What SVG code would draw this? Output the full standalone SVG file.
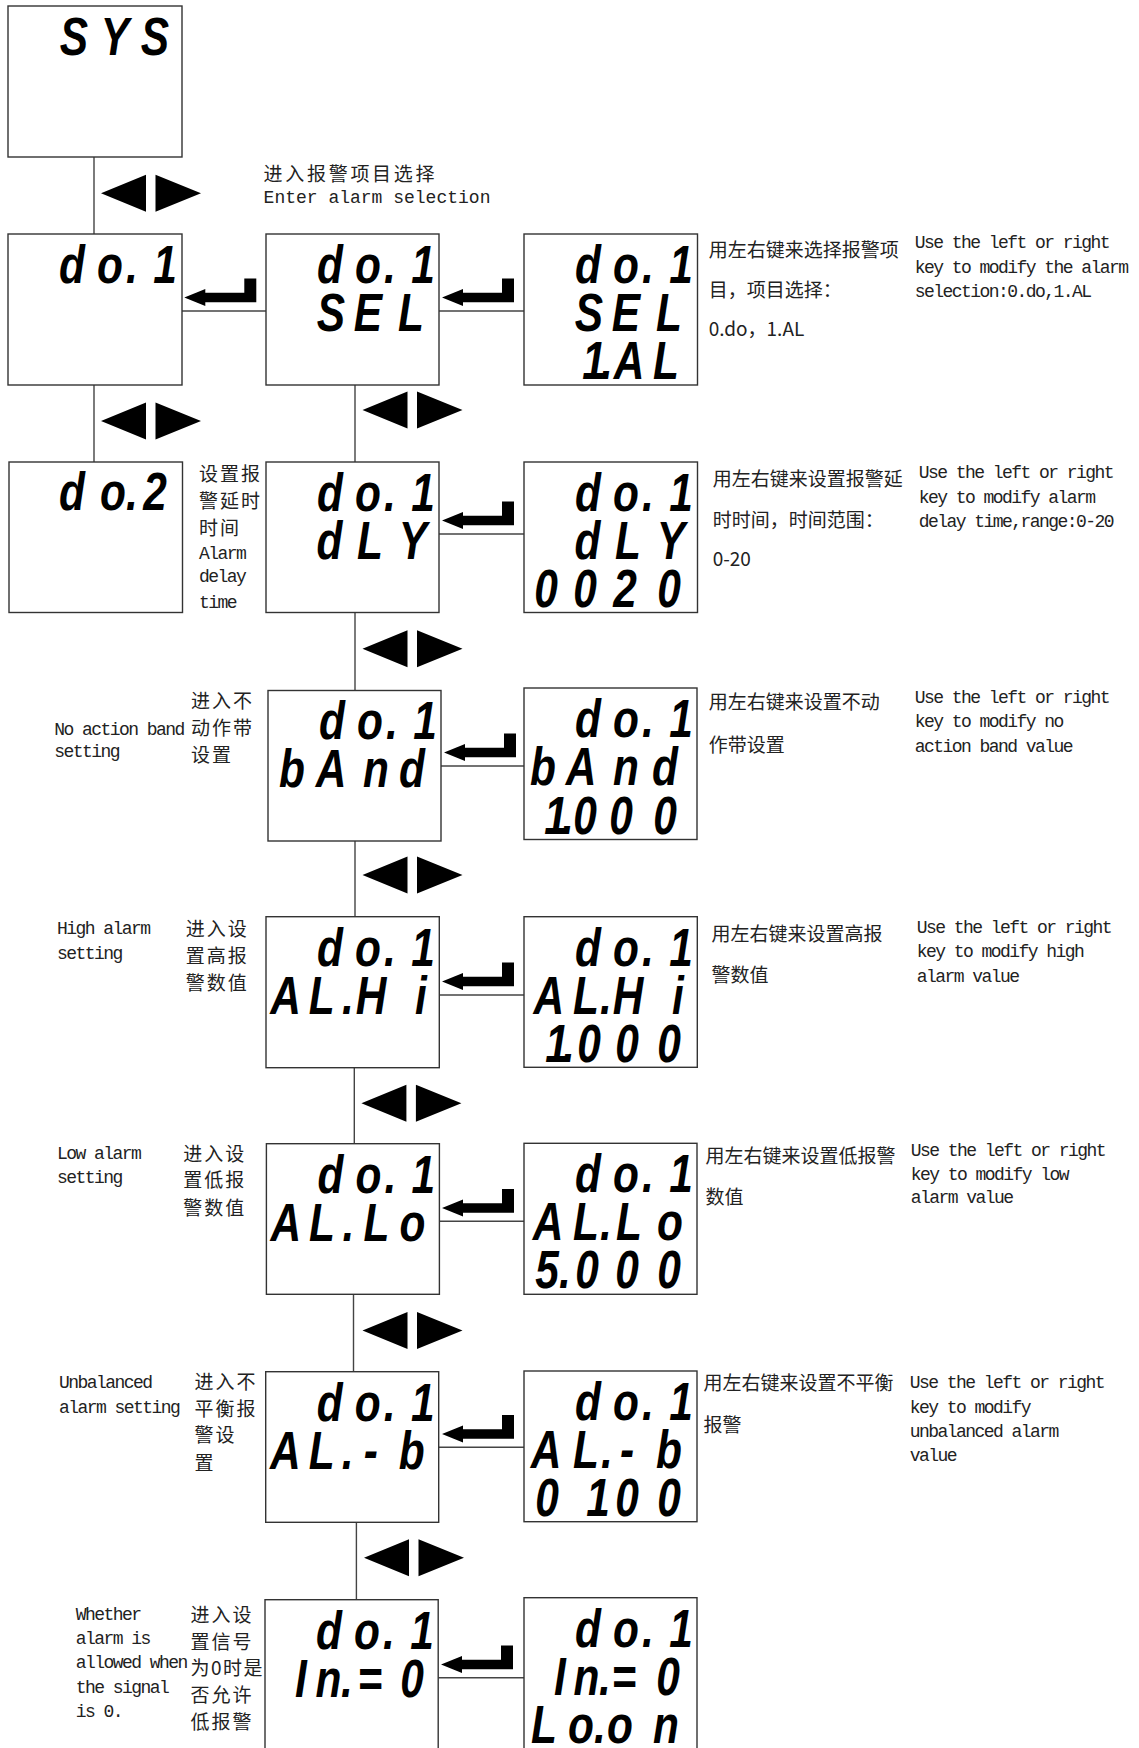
<svg xmlns="http://www.w3.org/2000/svg" width="1139" height="1748" viewBox="0 0 1139 1748">
<style>
.box{fill:#fff;stroke:#333;stroke-width:1.4}
.ln{stroke:#444;stroke-width:1.4;fill:none}
.sh{fill:#000}
.lcd{font-family:"Liberation Sans",Arial,sans-serif;font-weight:bold;font-style:italic;font-size:53px;text-anchor:middle;fill:#000}
.cn{font-family:"Noto Sans CJK SC",sans-serif;font-size:19px;fill:#222}
.cl{letter-spacing:2px}
.en{font-family:"Liberation Mono",monospace;font-size:18px;letter-spacing:-1.55px;fill:#222}
.en2{font-family:"Liberation Mono",monospace;font-size:18px;fill:#222}
</style>
<defs>
<path id="ret" d="M0,0 L21,-8.5 L21,-4.8 L60,-4.8 L60,-19 L72,-19 L72,4.8 L21,4.8 L21,8.5 Z"/>
<path id="lr" d="M0,0 L45,-18.5 L45,18.5 Z M54.5,-18.5 L100,0 L54.5,18.5 Z"/>
</defs>
<rect width="1139" height="1748" fill="#fff"/>

<g id="connectors">
<line class="ln" x1="94" y1="157" x2="94" y2="234"/>
<line class="ln" x1="94" y1="385" x2="94" y2="462"/>
<line class="ln" x1="355" y1="385" x2="355" y2="462"/>
<line class="ln" x1="355" y1="612.5" x2="355" y2="690.5"/>
<line class="ln" x1="355" y1="841" x2="355" y2="916.7"/>
<line class="ln" x1="354.3" y1="1067.7" x2="354.3" y2="1143.7"/>
<line class="ln" x1="353.5" y1="1294.3" x2="353.5" y2="1371.7"/>
<line class="ln" x1="356.4" y1="1522.3" x2="356.4" y2="1599.7"/>
<line class="ln" x1="182" y1="311" x2="266" y2="311"/>
<line class="ln" x1="439" y1="311" x2="524" y2="311"/>
<line class="ln" x1="439" y1="534" x2="524" y2="534"/>
<line class="ln" x1="441" y1="766" x2="524" y2="766"/>
<line class="ln" x1="439.3" y1="995" x2="524" y2="995"/>
<line class="ln" x1="439.3" y1="1221.3" x2="524" y2="1221.3"/>
<line class="ln" x1="438.7" y1="1447.3" x2="524" y2="1447.3"/>
<line class="ln" x1="438.2" y1="1677.7" x2="524" y2="1677.7"/>
<use href="#ret" class="sh" x="184.3" y="297.5"/>
<use href="#ret" class="sh" x="442" y="297.5"/>
<use href="#ret" class="sh" x="442" y="520.5"/>
<use href="#ret" class="sh" x="444" y="752.5"/>
<use href="#ret" class="sh" x="442" y="981.5"/>
<use href="#ret" class="sh" x="442" y="1208"/>
<use href="#ret" class="sh" x="442" y="1434"/>
<use href="#ret" class="sh" x="441" y="1664.5"/>
<use href="#lr" class="sh" x="101" y="193.3"/>
<use href="#lr" class="sh" x="101" y="421"/>
<use href="#lr" class="sh" x="362.5" y="410"/>
<use href="#lr" class="sh" x="362.5" y="648.7"/>
<use href="#lr" class="sh" x="362.5" y="875"/>
<use href="#lr" class="sh" x="361.4" y="1103.3"/>
<use href="#lr" class="sh" x="362.5" y="1330.5"/>
<use href="#lr" class="sh" x="364" y="1557.7"/>
</g>

<g id="box-sys">
<rect class="box" x="8" y="6" width="174" height="151"/>
<text class="lcd" transform="translate(8,6) scale(0.8,1)"><tspan x="82.5 133.75 183.75" y="49">SYS</tspan></text>
</g>
<g id="box-do1">
<rect class="box" x="8" y="234" width="174" height="151"/>
<text class="lcd" transform="translate(8,234) scale(0.8,1)"><tspan x="80 127.5 155 196.25" y="49">do.1</tspan></text>
</g>
<g id="box-do2">
<rect class="box" x="9" y="462" width="173.5" height="150.5"/>
<text class="lcd" transform="translate(9,462) scale(0.8,1)"><tspan x="78.75 130 153.75 182.5" y="48">do.2</tspan></text>
</g>
<g id="box-sel">
<rect class="box" x="266" y="234" width="173" height="151"/>
<text class="lcd" transform="translate(266,234) scale(0.8,1)"><tspan x="80 127.5 155 196.25" y="49">do.1</tspan><tspan x="81.25 127.5 181.25" y="97">SEL</tspan></text>
</g>
<g id="box-sel-val">
<rect class="box" x="524" y="234" width="173.5" height="151"/>
<text class="lcd" transform="translate(524,234) scale(0.8,1)"><tspan x="80 127.5 155 196.25" y="49">do.1</tspan><tspan x="81.25 127.5 181.25" y="97">SEL</tspan><tspan x="87.5 103.75 131.25 177.5" y="145">1.AL</tspan></text>
</g>
<g id="box-dly">
<rect class="box" x="266" y="462" width="173" height="150.5"/>
<text class="lcd" transform="translate(266,462) scale(0.8,1)"><tspan x="80 127.5 155 196.25" y="49">do.1</tspan><tspan x="79.4 130 183.75" y="97">dLY</tspan></text>
</g>
<g id="box-dly-val">
<rect class="box" x="524" y="462" width="173.5" height="150.5"/>
<text class="lcd" transform="translate(524,462) scale(0.8,1)"><tspan x="80 127.5 155 196.25" y="49">do.1</tspan><tspan x="79.4 130 183.75" y="97">dLY</tspan><tspan x="27.5 76.25 126.25 181.25" y="145">0020</tspan></text>
</g>
<g id="box-band">
<rect class="box" x="268" y="690.5" width="173" height="150.5"/>
<text class="lcd" transform="translate(268,690.5) scale(0.8,1)"><tspan x="80 127.5 155 196.25" y="49">do.1</tspan><tspan x="30 78.75 135 180" y="97">bAnd</tspan></text>
</g>
<g id="box-band-val">
<rect class="box" x="524" y="688" width="173" height="151.5"/>
<text class="lcd" transform="translate(524,688) scale(0.8,1)"><tspan x="80 127.5 155 196.25" y="49">do.1</tspan><tspan x="23.75 71.25 127.5 176.25" y="97">bAnd</tspan><tspan x="40 55 76.25 121.25 176.25" y="146">1.000</tspan></text>
</g>
<g id="box-alhi">
<rect class="box" x="266" y="916.7" width="173.3" height="151"/>
<text class="lcd" transform="translate(266,916.7) scale(0.8,1)"><tspan x="80 127.5 155 196.25" y="49">do.1</tspan><tspan x="24.4 69.5 102.5 131.25 193.75" y="97">AL.Hi</tspan></text>
</g>
<g id="box-alhi-val">
<rect class="box" x="524" y="916.7" width="173.3" height="150.6"/>
<text class="lcd" transform="translate(524,916.7) scale(0.8,1)"><tspan x="80 127.5 155 196.25" y="49">do.1</tspan><tspan x="31 77.5 102.5 130 192.5" y="97">AL.Hi</tspan><tspan x="41.25 56.25 81.25 128.75 181.25" y="145">1.000</tspan></text>
</g>
<g id="box-allo">
<rect class="box" x="266.4" y="1143.7" width="173" height="150.6"/>
<text class="lcd" transform="translate(266.4,1143.7) scale(0.8,1)"><tspan x="80 127.5 155 196.25" y="49">do.1</tspan><tspan x="24.4 69.5 102.5 137.5 182.5" y="97">AL.Lo</tspan></text>
</g>
<g id="box-allo-val">
<rect class="box" x="524" y="1143.3" width="173" height="151"/>
<text class="lcd" transform="translate(524,1143.3) scale(0.8,1)"><tspan x="80 127.5 155 196.25" y="49">do.1</tspan><tspan x="30 77.5 102.5 131.25 182.5" y="97">AL.Lo</tspan><tspan x="28.75 51.25 78.75 128.75 181.25" y="145">5.000</tspan></text>
</g>
<g id="box-alb">
<rect class="box" x="265.7" y="1371.7" width="173" height="150.6"/>
<text class="lcd" transform="translate(265.7,1371.7) scale(0.8,1)"><tspan x="80 127.5 155 196.25" y="49">do.1</tspan><tspan x="24.4 70 102.5 131.25 182.5" y="97">AL.-b</tspan></text>
</g>
<g id="box-alb-val">
<rect class="box" x="524" y="1371" width="173" height="150.7"/>
<text class="lcd" transform="translate(524,1371) scale(0.8,1)"><tspan x="80 127.5 155 196.25" y="49">do.1</tspan><tspan x="27.5 77.5 103.75 128.75 181.25" y="97">AL.-b</tspan><tspan x="28.75 92.5 128.75 181.25" y="145">0100</tspan></text>
</g>
<g id="box-in0">
<rect class="box" x="265" y="1599.7" width="173.2" height="151"/>
<text class="lcd" transform="translate(265,1599.7) scale(0.8,1)"><tspan x="80 127.5 155 196.25" y="49">do.1</tspan><tspan x="45 79.4 102.5 131.25 183.75" y="97">In.=0</tspan></text>
</g>
<g id="box-in0-val">
<rect class="box" x="524" y="1597.7" width="173" height="151"/>
<text class="lcd" transform="translate(524,1597.7) scale(0.8,1)"><tspan x="80 127.5 155 196.25" y="49">do.1</tspan><tspan x="45 78.1 101.25 125 180" y="97">In.=0</tspan><tspan x="25 71.25 95 120 177.5" y="145">Lo.on</tspan></text>
</g>

<g id="labels">
<text class="cn" x="263.6" y="180.5" style="letter-spacing:2.7px">进入报警项目选择</text>
<text class="en2" x="263.6" y="203.3">Enter alarm selection</text>

<text class="cn" x="708.7" y="257">用左右键来选择报警项</text>
<text class="cn" x="708.7" y="297">目，项目选择：</text>
<text class="cn" x="708.7" y="336">0.do，1.AL</text>
<text class="en" x="914.8" y="248.3">Use the left or right</text>
<text class="en" x="914.8" y="272.7">key to modify the alarm</text>
<text class="en" x="914.8" y="296.7">selection:0.do,1.AL</text>

<text class="cn cl" x="199" y="481">设置报</text>
<text class="cn cl" x="199" y="508">警延时</text>
<text class="cn cl" x="199" y="534.5">时间</text>
<text class="en" x="199" y="559">Alarm</text>
<text class="en" x="199" y="581.7">delay</text>
<text class="en" x="199" y="607.7">time</text>
<text class="cn" x="712.7" y="485.5">用左右键来设置报警延</text>
<text class="cn" x="712.7" y="527">时时间，时间范围：</text>
<text class="cn" x="712.7" y="566">0-20</text>
<text class="en" x="918.7" y="478.3">Use the left or right</text>
<text class="en" x="918.7" y="503.3">key to modify alarm</text>
<text class="en" x="918.7" y="527.3">delay time,range:0-20</text>

<text class="cn cl" x="191" y="708">进入不</text>
<text class="en" x="54.3" y="735">No action band</text>
<text class="cn cl" x="191" y="735">动作带</text>
<text class="en" x="54.3" y="756.7">setting</text>
<text class="cn cl" x="191" y="762">设置</text>
<text class="cn" x="708.7" y="709">用左右键来设置不动</text>
<text class="cn" x="708.7" y="752">作带设置</text>
<text class="en" x="914.8" y="703.3">Use the left or right</text>
<text class="en" x="914.8" y="727.3">key to modify no</text>
<text class="en" x="914.8" y="751.7">action band value</text>

<text class="en" x="57.1" y="934.3">High alarm</text>
<text class="en" x="57.1" y="959">setting</text>
<text class="cn cl" x="185.7" y="936">进入设</text>
<text class="cn cl" x="185.7" y="963">置高报</text>
<text class="cn cl" x="185.7" y="990">警数值</text>
<text class="cn" x="711.5" y="941">用左右键来设置高报</text>
<text class="cn" x="711.5" y="982">警数值</text>
<text class="en" x="916.8" y="933.3">Use the left or right</text>
<text class="en" x="916.8" y="957.3">key to modify high</text>
<text class="en" x="916.8" y="981.7">alarm value</text>

<text class="en" x="57.1" y="1159.3">Low alarm</text>
<text class="en" x="57.1" y="1182.7">setting</text>
<text class="cn cl" x="183.2" y="1160.5">进入设</text>
<text class="cn cl" x="183.2" y="1187">置低报</text>
<text class="cn cl" x="183.2" y="1214.5">警数值</text>
<text class="cn" x="705.5" y="1162.5">用左右键来设置低报警</text>
<text class="cn" x="705.5" y="1203.5">数值</text>
<text class="en" x="910.8" y="1156">Use the left or right</text>
<text class="en" x="910.8" y="1180">key to modify low</text>
<text class="en" x="910.8" y="1203.3">alarm value</text>

<text class="en" x="59" y="1388.3">Unbalanced</text>
<text class="en" x="59" y="1412.7">alarm setting</text>
<text class="cn cl" x="194.6" y="1389">进入不</text>
<text class="cn cl" x="194.6" y="1416">平衡报</text>
<text class="cn cl" x="194.6" y="1442">警设</text>
<text class="cn cl" x="194.6" y="1470">置</text>
<text class="cn" x="703.6" y="1389.5">用左右键来设置不平衡</text>
<text class="cn" x="703.6" y="1431.5">报警</text>
<text class="en" x="909.7" y="1388.3">Use the left or right</text>
<text class="en" x="909.7" y="1412.7">key to modify</text>
<text class="en" x="909.7" y="1436.7">unbalanced alarm</text>
<text class="en" x="909.7" y="1461">value</text>

<text class="en" x="75.7" y="1620">Whether</text>
<text class="en" x="75.7" y="1644">alarm is</text>
<text class="en" x="75.7" y="1668.3">allowed when</text>
<text class="en" x="75.7" y="1693.3">the signal</text>
<text class="en" x="75.7" y="1717.3">is 0.</text>
<text class="cn cl" x="190.4" y="1622">进入设</text>
<text class="cn cl" x="190.4" y="1648.5">置信号</text>
<text class="cn" x="190.4" y="1675" style="letter-spacing:1.5px">为0时是</text>
<text class="cn cl" x="190.4" y="1702">否允许</text>
<text class="cn cl" x="190.4" y="1728.5">低报警</text>
</g>
</svg>
